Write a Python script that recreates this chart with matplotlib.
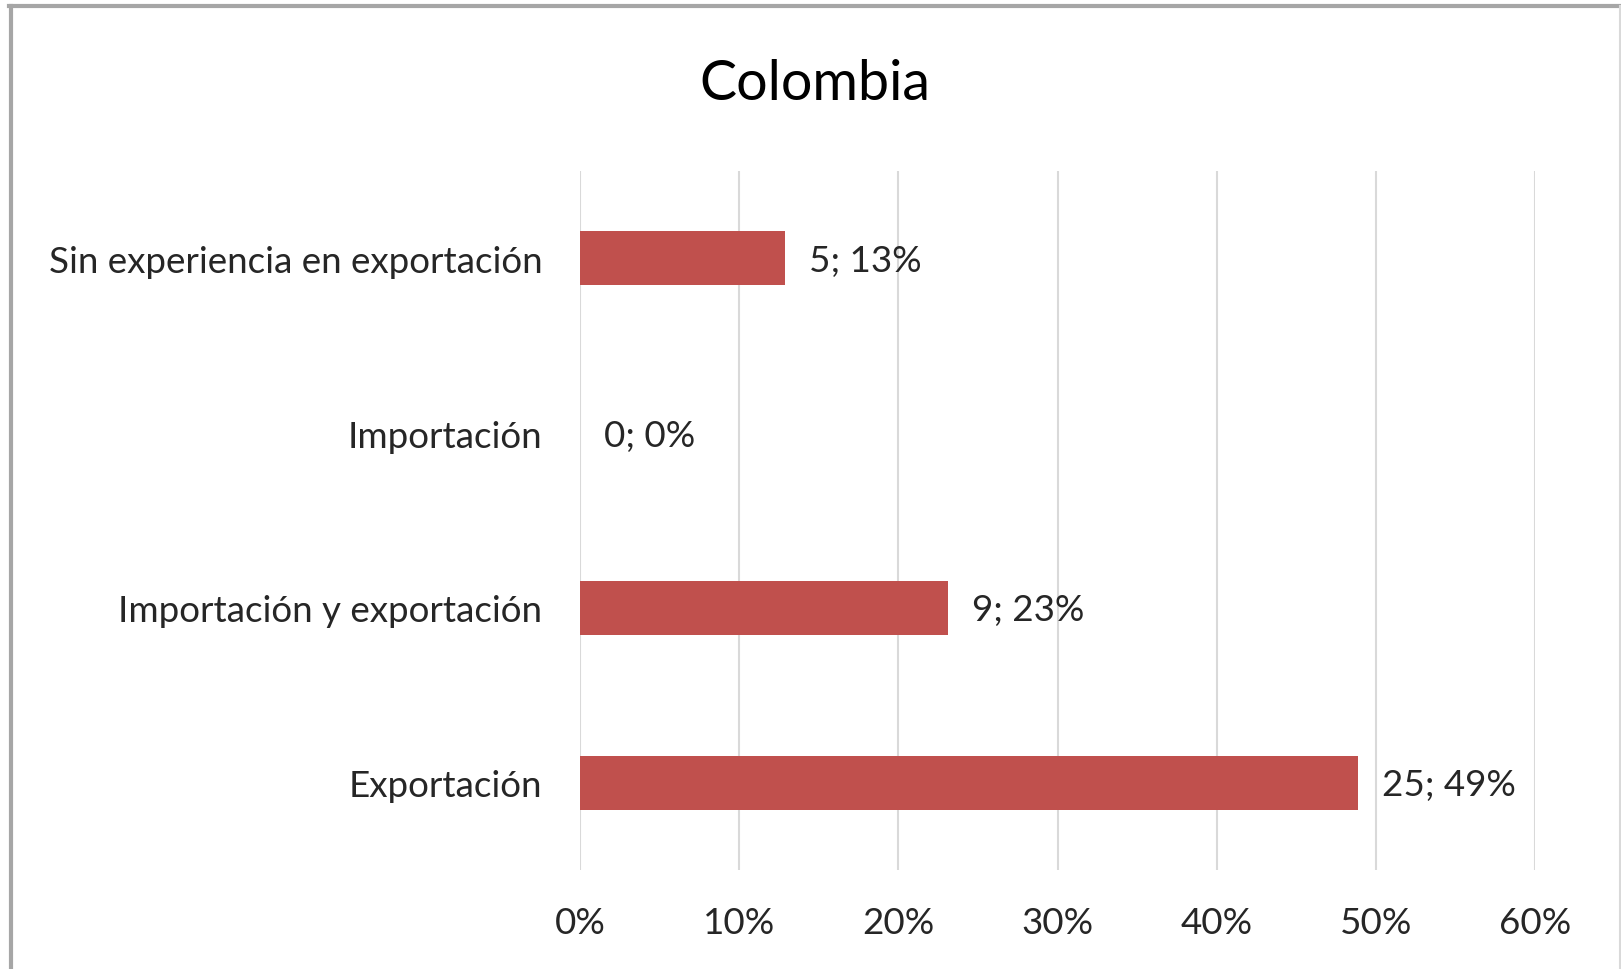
import matplotlib.pyplot as plt
from matplotlib.lines import Line2D
from matplotlib.ticker import FuncFormatter

categorias = ["Exportación", "Importación y exportación", "Importación",
              "Sin experiencia en exportación"]
porcentajes = [48.9, 23.1, 0.0, 12.9]
etiquetas = ["25; 49%", "9; 23%", "0; 0%", "5; 13%"]
ticks_x = [0, 10, 20, 30, 40, 50, 60]

plt.rcParams['font.family'] = ['Lato', 'DejaVu Sans']

W, H = 1621, 970
fig = plt.figure(figsize=(W / 100, H / 100), dpi=100)
fig.patch.set_facecolor('white')

# plot area in pixels: x 580..1535, y 172..871
ax = fig.add_axes([580 / W, 1 - 871 / H, (1535 - 580) / W, (871 - 172) / H])

pos = list(range(len(categorias)))
ax.barh(pos, porcentajes, height=0.31, color='#c0504d', zorder=3)
for y, v, t in zip(pos, porcentajes, etiquetas):
    ax.annotate(t, (v, y), xytext=(24, -2), textcoords='offset pixels',
                va='center', ha='left', fontsize=26.5, color='#262626')

ax.set_xlim(0, 60)
ax.set_ylim(-0.5, len(categorias) - 0.5)
ax.set_xticks(ticks_x)
ax.xaxis.set_major_formatter(FuncFormatter(lambda v, p: f"{v:.0f}%"))
ax.set_yticks(pos)
ax.set_yticklabels(categorias)
ax.grid(axis='x', color='#d9d9d9', linewidth=1.5, zorder=0)
for s in ax.spines.values():
    s.set_visible(False)
ax.tick_params(length=0, labelsize=26.5, colors='#262626')
ax.tick_params(axis='x', pad=26)
ax.tick_params(axis='y', pad=27)

fig.text(815 / W, 1 - 100 / H, "Colombia", ha='center', va='baseline',
         fontsize=40, color='black')

# outer chart frame
fig.add_artist(Line2D([10.5 / W, 10.5 / W], [0, 1 - 7 / H], color='#a6a6a6',
                      linewidth=3, transform=fig.transFigure))
fig.add_artist(Line2D([9 / W, 1], [1 - 7 / H, 1 - 7 / H], color='#a6a6a6',
                      linewidth=3, transform=fig.transFigure))
fig.add_artist(Line2D([1620 / W, 1620 / W], [0, 1 - 7 / H], color='#d9d9d9',
                      linewidth=1.5, transform=fig.transFigure))

fig.savefig("out.png", dpi=100)
